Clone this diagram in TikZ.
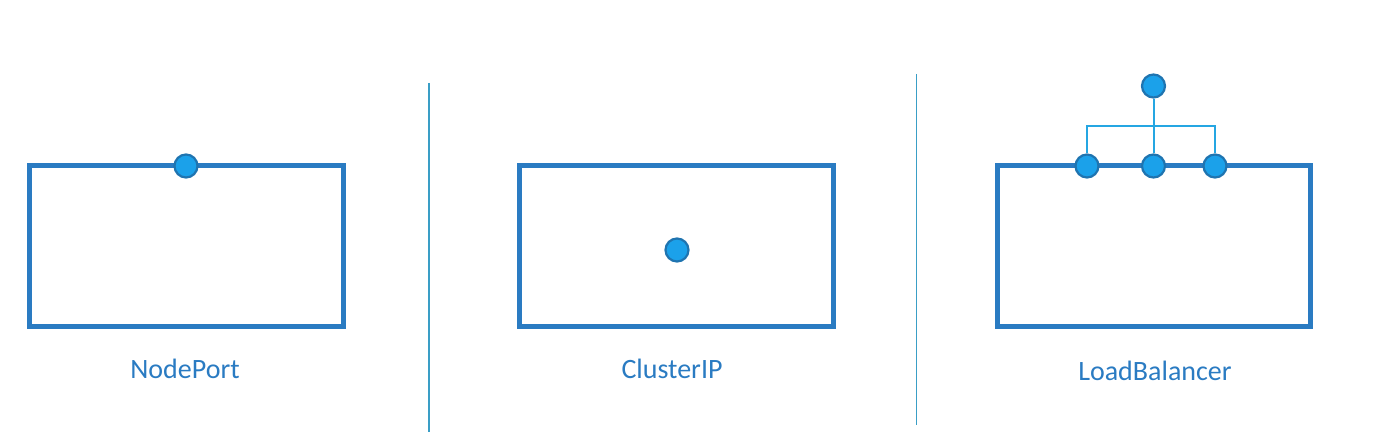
\documentclass[tikz,border=0pt]{standalone}
\usepackage{fontspec}
\setmainfont{Carlito}
\usetikzlibrary{backgrounds}
\definecolor{frameblue}{HTML}{2A7BC2}
\definecolor{dotfill}{HTML}{1BA1EA}
\definecolor{dotline}{HTML}{1F74B0}
\definecolor{linkblue}{HTML}{25A6E2}
\definecolor{rule}{HTML}{3A9EC6}
\tikzset{
  svcbox/.style={draw=frameblue, line width=5pt, minimum width=313.5pt, minimum height=161pt, inner sep=0pt},
  port/.style={circle, fill=dotfill, draw=dotline, line width=2.2pt, minimum size=23pt, inner sep=0pt},
  svclabel/.style={text=frameblue, font=\fontsize{28}{30}\selectfont},
  divider/.style={draw=rule, line width=1.4pt}
}
\begin{document}
\begin{tikzpicture}[x=1pt,y=-1pt]
\useasboundingbox (0,0) rectangle (1377,433);
% boxes
\node[svcbox] (nodeport) at (186.25,246) {};
\node[svcbox] (clusterip) at (676.25,246) {};
\node[svcbox] (loadbal) at (1154,246) {};
% labels
\node[svclabel] (nplabel) at (185,369) {NodePort};
\node[svclabel] (cilabel) at (672,369) {ClusterIP};
\node[svclabel] (lblabel) at (1155,371) {LoadBalancer};
% dividers
\draw[divider] (429,83) -- (429,432);
\draw[divider] (916.5,74) -- (916.5,425);
% ports
\node[port] (npport) at (186,166) {};
\node[port] (ciport) at (677,250) {};
\node[port] (lbtop) at (1153.5,86) {};
\node[port] (lbleft) at (1087,166) {};
\node[port] (lbmid) at (1153.5,166) {};
\node[port] (lbright) at (1215,166) {};
\coordinate (lbbar) at (1153.5,126);
\begin{scope}[on background layer]
\draw[linkblue, line width=2pt] (lbtop) -- (lbmid);
\draw[linkblue, line width=2pt] (lbleft) |- (lbbar) -| (lbright);
\end{scope}
\end{tikzpicture}
\end{document}
